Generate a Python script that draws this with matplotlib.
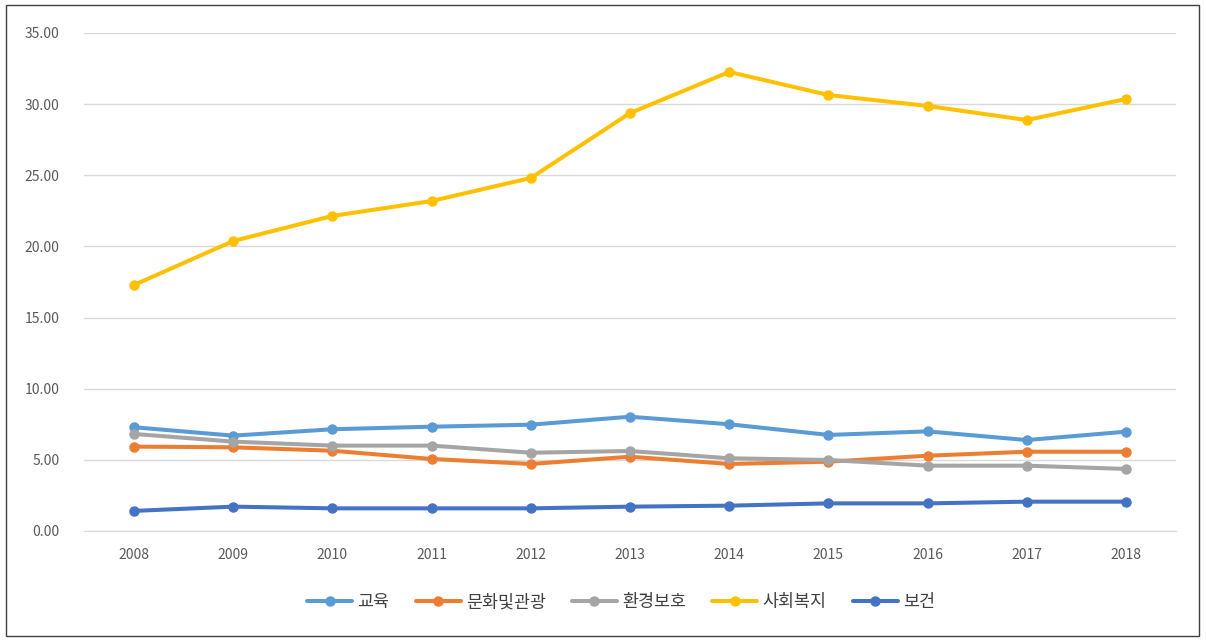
import matplotlib
matplotlib.use('Agg')
import matplotlib.pyplot as plt
from matplotlib.patches import Rectangle

plt.rcParams['font.family'] = ['Noto Sans CJK KR', 'DejaVu Sans']

years = ['2008', '2009', '2010', '2011', '2012', '2013', '2014', '2015', '2016', '2017', '2018']

edu     = [7.29, 6.70, 7.15, 7.33, 7.47, 8.03, 7.50, 6.75, 7.00, 6.39, 6.98]
culture = [5.93, 5.88, 5.64, 5.06, 4.71, 5.22, 4.71, 4.87, 5.29, 5.57, 5.57]
env     = [6.82, 6.28, 6.00, 6.00, 5.50, 5.62, 5.11, 4.99, 4.59, 4.59, 4.36]
welfare = [17.29, 20.38, 22.14, 23.19, 24.81, 29.37, 32.26, 30.64, 29.87, 28.88, 30.36]
health  = [1.41, 1.71, 1.59, 1.59, 1.59, 1.71, 1.78, 1.94, 1.94, 2.06, 2.06]

names  = ['교육', '문화및관광', '환경보호', '사회복지', '보건']
colors = ['#5B9BD5', '#ED7D31', '#A5A5A5', '#FFC000', '#4472C4']
series = [edu, culture, env, welfare, health]

fig = plt.figure(figsize=(12.06, 6.44), dpi=100)
ax = fig.add_axes([0.070, 0.1755, 0.9048, 0.7733])

x = list(range(len(years)))
for vals, name, c in zip(series, names, colors):
    ax.plot(x, vals, color=c, lw=2.9, marker='o', ms=6.5, label=name,
            solid_capstyle='round')

ax.set_xlim(-0.5, len(years) - 0.5)
ax.set_ylim(0, 35)
ax.set_yticks([0, 5, 10, 15, 20, 25, 30, 35])
ax.set_yticklabels([f'{v:.2f}' for v in [0, 5, 10, 15, 20, 25, 30, 35]])
ax.set_xticks(x)
ax.set_xticklabels(years)
ax.tick_params(axis='both', length=0, labelsize=10, colors='#595959', pad=12)
ax.tick_params(axis='y', pad=18)
ax.grid(axis='y', color='#D9D9D9', lw=1)
ax.set_axisbelow(True)
for s in ['top', 'right', 'left']:
    ax.spines[s].set_visible(False)
ax.spines['bottom'].set_color('#D9D9D9')

fig.legend(loc='center', bbox_to_anchor=(0.515, 0.065), ncol=5, frameon=False,
           fontsize=12.5, handlelength=2.6, columnspacing=1.5, handletextpad=0.3,
           labelcolor='#404040')

fig.patches.append(Rectangle((0.005, 0.013), 0.989, 0.98, transform=fig.transFigure,
                             fill=False, edgecolor='#404040', lw=1))

plt.savefig('out.png', dpi=100)
